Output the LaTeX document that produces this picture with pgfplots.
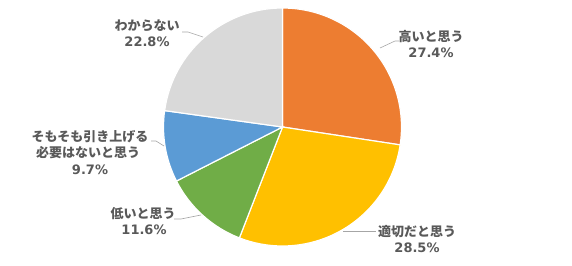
\documentclass[border=0pt]{standalone}
\usepackage{pgfplots}
\usepackage{pgfplotstable}
\pgfplotsset{compat=1.18}
\usepackage{fontspec}
\newfontfamily\jp{Noto Sans CJK JP}
\newfontfamily\dv{DejaVu Sans}
\definecolor{cOrange}{HTML}{ED7D31}
\definecolor{cGold}{HTML}{FFC000}
\definecolor{cGreen}{HTML}{70AD47}
\definecolor{cBlue}{HTML}{5B9BD5}
\definecolor{cGray}{HTML}{D9D9D9}
\definecolor{txt}{HTML}{595959}
\definecolor{lead}{HTML}{A6A6A6}
\pgfplotstableread{
value col
27.4 cOrange
28.5 cGold
11.6 cGreen
9.7 cBlue
22.8 cGray
}\piedata
\begin{document}
\begin{tikzpicture}
\begin{axis}[width=572pt,height=265pt,scale only axis,xmin=0,xmax=572,ymin=0,ymax=265,hide axis,clip=false]
\path[draw=none] (axis cs:0,0) rectangle (axis cs:572,265);
\def\cx{282.5}\def\cy{138}\def\R{119}
\pgfmathsetmacro\cum{0}
\pgfplotsforeachungrouped \i in {0,...,4}{%
  \pgfplotstablegetelem{\i}{value}\of\piedata \let\slval\pgfplotsretval
  \pgfplotstablegetelem{\i}{col}\of\piedata \let\slcol\pgfplotsretval
  \pgfmathsetmacro\angA{90-3.6*\cum}%
  \pgfmathsetmacro\angB{\angA-3.6*\slval}%
  \edef\temp{\noexpand\fill[\slcol, draw=white, line width=1.2pt] (axis cs:\cx,\cy) -- ([shift={(\angA:\R pt)}]axis cs:\cx,\cy) arc[start angle=\angA, end angle=\angB, radius=\R pt] -- cycle;}%
  \temp
  \pgfmathsetmacro\cum{\cum+\slval}%
}
% leaders
\draw[lead, line width=0.6pt] (axis cs:380,217) -- (axis cs:395,224) -- (axis cs:399,224);
\draw[lead, line width=0.6pt] (axis cs:343,34) -- (axis cs:376,34);
\draw[lead, line width=0.6pt] (axis cs:174,46) -- (axis cs:181,46) -- (axis cs:201,50);
\draw[lead, line width=0.6pt] (axis cs:151,124) -- (axis cs:156,124) -- (axis cs:164,119);
\draw[lead, line width=0.6pt] (axis cs:182,233) -- (axis cs:188,233) -- (axis cs:203,228);
% labels
\tikzset{lj/.style={text=txt, font=\jp\bfseries\fontsize{13}{16}\selectfont, inner sep=0pt},
         ld/.style={text=txt, font=\dv\bfseries\fontsize{13}{16}\selectfont, inner sep=0pt}}
\node[lj] at (axis cs:431,228) {高いと思う};
\node[ld] at (axis cs:431,212) {27.4\%};
\node[lj] at (axis cs:417,33) {適切だと思う};
\node[ld] at (axis cs:417,17) {28.5\%};
\node[lj] at (axis cs:143,51) {低いと思う};
\node[ld] at (axis cs:144,35) {11.6\%};
\node[lj] at (axis cs:90,128) {そもそも引き上げる};
\node[lj] at (axis cs:88,112) {必要はないと思う};
\node[ld] at (axis cs:90,95) {9.7\%};
\node[lj] at (axis cs:147,239) {わからない};
\node[ld] at (axis cs:147,223) {22.8\%};
\end{axis}
\end{tikzpicture}
\end{document}
